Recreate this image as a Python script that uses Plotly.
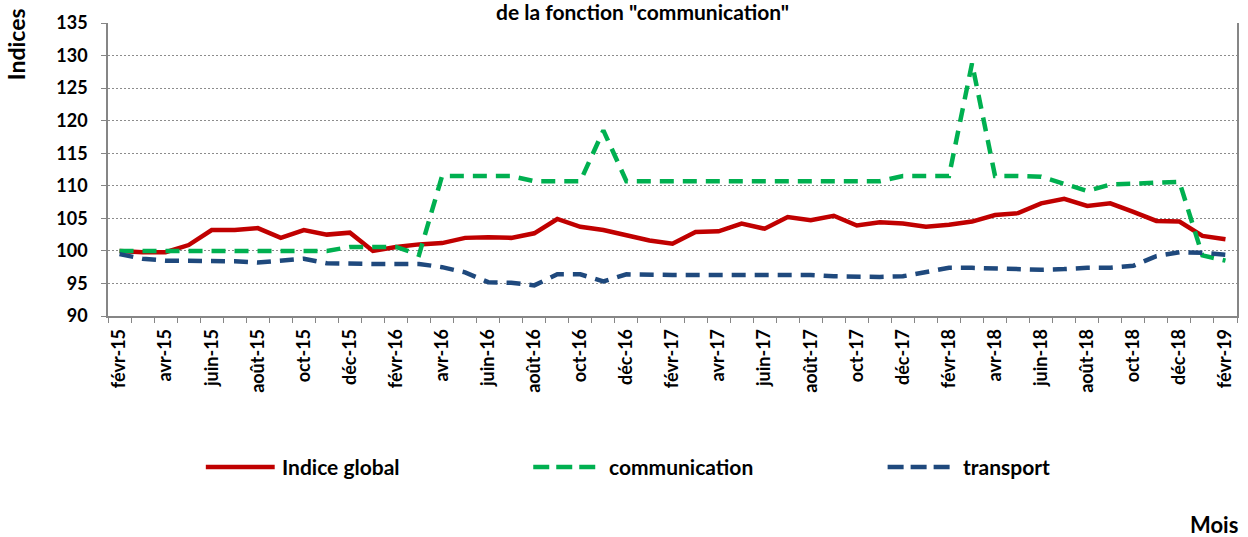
import plotly.graph_objects as go

# ---------------- data ----------------
months = [
    "févr-15", "mars-15", "avr-15", "mai-15", "juin-15", "juil-15", "août-15", "sept-15",
    "oct-15", "nov-15", "déc-15", "janv-16", "févr-16", "mars-16", "avr-16", "mai-16",
    "juin-16", "juil-16", "août-16", "sept-16", "oct-16", "nov-16", "déc-16", "janv-17",
    "févr-17", "mars-17", "avr-17", "mai-17", "juin-17", "juil-17", "août-17", "sept-17",
    "oct-17", "nov-17", "déc-17", "janv-18", "févr-18", "mars-18", "avr-18", "mai-18",
    "juin-18", "juil-18", "août-18", "sept-18", "oct-18", "nov-18", "déc-18", "janv-19",
    "févr-19",
]

indice_global = [
    100.0, 99.8, 99.8, 100.9, 103.2, 103.2, 103.5, 102.0,
    103.2, 102.5, 102.8, 100.0, 100.6, 101.0, 101.2, 102.0,
    102.1, 102.0, 102.7, 104.9, 103.7, 103.2, 102.4, 101.6,
    101.1, 102.9, 103.0, 104.2, 103.4, 105.2, 104.7, 105.4,
    103.9, 104.4, 104.2, 103.7, 104.0, 104.5, 105.5, 105.8,
    107.3, 108.0, 106.9, 107.3, 106.0, 104.6, 104.5, 102.3,
    101.8,
]

communication = [
    100.0, 100.0, 100.0, 100.0, 100.0, 100.0, 100.0, 100.0,
    100.0, 100.0, 100.6, 100.6, 100.6, 99.4, 111.5, 111.5,
    111.5, 111.5, 110.7, 110.7, 110.7, 118.5, 110.7, 110.7,
    110.7, 110.7, 110.7, 110.7, 110.7, 110.7, 110.7, 110.7,
    110.7, 110.7, 111.5, 111.5, 111.5, 128.8, 111.5, 111.5,
    111.4, 110.3, 109.2, 110.2, 110.3, 110.4, 110.6, 99.3,
    98.5,
]

transport = [
    99.5, 98.8, 98.5, 98.5, 98.4, 98.4, 98.2, 98.5,
    98.8, 98.1, 98.0, 98.0, 98.0, 98.0, 97.5, 96.7,
    95.2, 95.1, 94.7, 96.4, 96.4, 95.3, 96.4, 96.3,
    96.3, 96.3, 96.3, 96.3, 96.3, 96.3, 96.3, 96.1,
    96.0, 96.0, 96.1, 96.8, 97.4, 97.4, 97.3, 97.1,
    97.1, 97.2, 97.4, 97.4, 97.7, 99.2, 99.8, 99.7,
    99.4,
]

series_names = ["Indice global", "communication", "transport"]
title_text = 'de la fonction "communication"'
y_title = "Indices"
x_title = "Mois"

# ---------------- styles ----------------
FONT = "Lato, Carlito, 'Open Sans', sans-serif"
RED = "#C00000"
GREEN = "#00B050"
BLUE = "#1F497D"
AXIS_GRAY = "#868686"
GRID_GRAY = "#8C8C8C"

W, H = 1248, 537
L, R, T, B = 108, 9, 23, 221
PW, PH = W - L - R, H - T - B


def px(xp):
    return (xp - L) / PW


def py(yp):
    return (H - B - yp) / PH


tick_text = [m if i % 2 == 0 else "" for i, m in enumerate(months)]

fig = go.Figure()
fig.add_trace(go.Scatter(x=months, y=indice_global, name=series_names[0], mode="lines",
                         line=dict(color=RED, width=4.5), showlegend=False))
fig.add_trace(go.Scatter(x=months, y=communication, name=series_names[1], mode="lines",
                         line=dict(color=GREEN, width=4.5, dash="14px,9px"), showlegend=False))
fig.add_trace(go.Scatter(x=months, y=transport, name=series_names[2], mode="lines",
                         line=dict(color=BLUE, width=4.5, dash="14px,9px"), showlegend=False))

fig.update_layout(
    width=W, height=H,
    margin=dict(l=L, r=R, t=T, b=B, pad=0),
    paper_bgcolor="white", plot_bgcolor="white",
    font=dict(family=FONT, color="black"),
    showlegend=False,
)

fig.update_xaxes(
    type="category",
    range=[-0.5, len(months) - 0.5],
    tickmode="array", tickvals=months, ticktext=tick_text,
    tickangle=-90, tickson="boundaries",
    ticks="outside", ticklen=5, tickwidth=1, tickcolor=AXIS_GRAY,
    tickfont=dict(family=FONT, size=18, weight="bold", color="black"),
    ticklabelstandoff=4,
    showline=True, linecolor=AXIS_GRAY, linewidth=1.5,
    showgrid=False, zeroline=False,
)

fig.update_yaxes(
    range=[90, 135], dtick=5, tick0=90,
    ticks="outside", ticklen=5, tickwidth=1, tickcolor=AXIS_GRAY,
    tickfont=dict(family=FONT, size=18, weight="bold", color="black"),
    ticklabelstandoff=10,
    showline=True, linecolor=AXIS_GRAY, linewidth=1.5, mirror=True,
    showgrid=True, gridcolor=GRID_GRAY, gridwidth=1, griddash="2px,2px",
    zeroline=False,
)

annotations = [
    dict(text=title_text, x=px(643), y=py(11.5), xanchor="center", yanchor="middle",
         font=dict(size=21, weight="bold")),
    dict(text=y_title, x=px(16), y=py(44), xanchor="center", yanchor="middle", textangle=-90,
         font=dict(size=23, weight="bold")),
    dict(text=x_title, x=px(1216), y=py(524), xanchor="center", yanchor="middle",
         font=dict(size=22, weight="bold")),
]

legend_items = [
    (series_names[0], RED, "solid", 206, 275, 280),
    (series_names[1], GREEN, "16px,7px", 534, 597, 608),
    (series_names[2], BLUE, "16px,7px", 889, 952, 963),
]
shapes = []
for name, color, dash, x0, x1, xt in legend_items:
    shapes.append(dict(type="line", xref="paper", yref="paper",
                       x0=px(x0), x1=px(x1), y0=py(467), y1=py(467),
                       line=dict(color=color, width=4.5, dash=dash)))
    annotations.append(dict(text=name, x=px(xt), y=py(467), xanchor="left", yanchor="middle",
                            font=dict(size=21, weight="bold")))

for a in annotations:
    a.update(xref="paper", yref="paper", showarrow=False)

fig.update_layout(annotations=annotations, shapes=shapes)

fig.write_html("out.html", config={"displayModeBar": False},
               post_script="document.body.style.margin='0';")
